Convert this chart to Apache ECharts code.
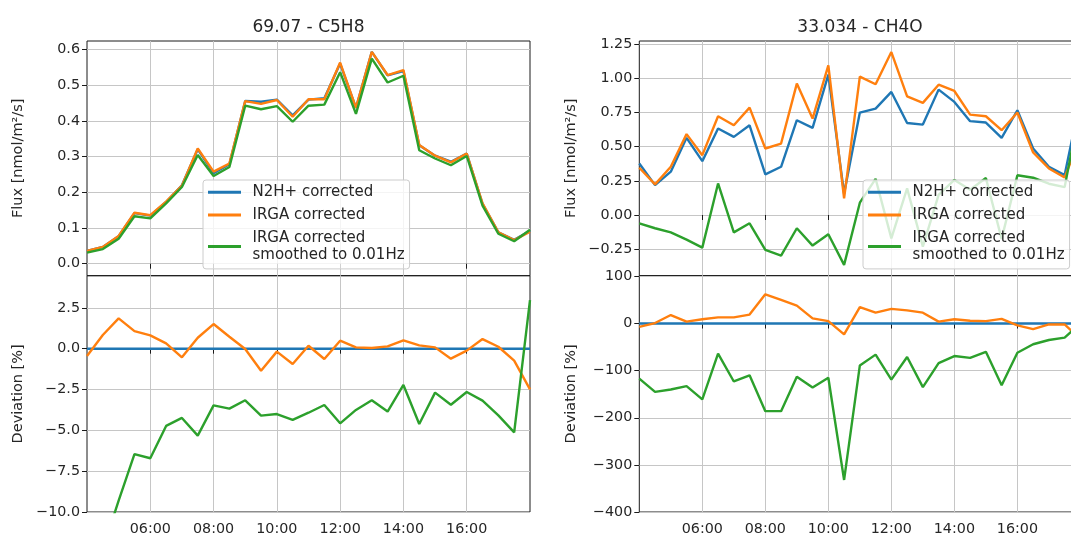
<!DOCTYPE html>
<html><head><meta charset="utf-8">
<script src="https://cdn.jsdelivr.net/npm/echarts@6/dist/echarts.min.js"></script>
<style>html,body{margin:0;padding:0;background:#fff}#c{width:1071px;height:536px}</style>
</head><body><div id="c"></div>
<script>
// ---------- data ----------
const times = ['04:00','04:30','05:00','05:30','06:00','06:30','07:00','07:30','08:00','08:30','09:00','09:30','10:00','10:30','11:00','11:30','12:00','12:30','13:00','13:30','14:00','14:30','15:00','15:30','16:00','16:30','17:00','17:30','18:00'];
const seriesNames = ['N2H+ corrected', 'IRGA corrected', 'IRGA corrected\nsmoothed to 0.01Hz'];

// 69.07 - C5H8
const c5h8FluxN2H    = [0.036,0.047,0.077,0.142,0.135,0.173,0.220,0.321,0.254,0.279,0.456,0.454,0.460,0.416,0.460,0.464,0.561,0.437,0.594,0.528,0.540,0.332,0.303,0.286,0.309,0.168,0.088,0.067,0.092];
const c5h8FluxIRGA   = [0.036,0.047,0.078,0.143,0.136,0.174,0.219,0.323,0.258,0.281,0.456,0.448,0.459,0.412,0.461,0.461,0.564,0.437,0.594,0.529,0.543,0.333,0.303,0.284,0.309,0.169,0.088,0.066,0.090];
const c5h8FluxSmooth = [0.031,0.041,0.070,0.133,0.127,0.169,0.215,0.305,0.246,0.271,0.443,0.433,0.442,0.398,0.443,0.446,0.537,0.420,0.575,0.508,0.527,0.318,0.295,0.276,0.302,0.163,0.084,0.063,0.095];
const c5h8DevN2H     = [0,0,0,0,0,0,0,0,0,0,0,0,0,0,0,0,0,0,0,0,0,0,0,0,0,0,0,0,0];
const c5h8DevIRGA    = [-0.45,0.84,1.86,1.08,0.82,0.33,-0.53,0.67,1.51,0.73,-0.02,-1.35,-0.18,-0.94,0.18,-0.63,0.49,0.08,0.04,0.14,0.51,0.20,0.08,-0.61,-0.12,0.59,0.12,-0.73,-2.49];
const c5h8DevSmooth  = [-14.0,-12.3,-9.3,-6.46,-6.71,-4.73,-4.24,-5.32,-3.47,-3.67,-3.16,-4.10,-4.00,-4.36,-3.92,-3.45,-4.57,-3.75,-3.16,-3.85,-2.22,-4.61,-2.69,-3.43,-2.65,-3.18,-4.08,-5.12,2.98];

// 33.034 - CH4O
const ch4oFluxN2H    = [0.377,0.219,0.317,0.565,0.394,0.633,0.572,0.657,0.297,0.353,0.694,0.638,1.028,0.157,0.750,0.779,0.901,0.674,0.662,0.918,0.828,0.687,0.677,0.565,0.767,0.487,0.353,0.292,0.85];
const ch4oFluxIRGA   = [0.346,0.224,0.353,0.592,0.438,0.723,0.657,0.786,0.487,0.523,0.962,0.706,1.096,0.122,1.013,0.957,1.193,0.869,0.821,0.954,0.908,0.735,0.723,0.621,0.750,0.458,0.341,0.275,0.57];
const ch4oFluxSmooth = [-0.061,-0.097,-0.127,-0.180,-0.239,0.231,-0.127,-0.061,-0.256,-0.297,-0.097,-0.224,-0.141,-0.365,0.090,0.265,-0.171,0.195,-0.232,0.147,0.257,0.185,0.271,-0.175,0.291,0.273,0.229,0.204,0.80];
const ch4oDevN2H     = [0,0,0,0,0,0,0,0,0,0,0,0,0,0,0,0,0,0,0,0,0,0,0,0,0,0,0,0,0];
const ch4oDevIRGA    = [-7,1,18,4,9,13,13,19,62,50,38,11,5,-23,35,23,31,28,23,4,9,6,5,10,-4,-12,-2,-2,-33];
const ch4oDevSmooth  = [-117,-145,-140,-133,-161,-64,-123,-110,-186,-186,-113,-136,-115,-332,-89,-66,-119,-71,-135,-84,-69,-73,-60,-131,-62,-44,-35,-30,0];

// tick values
const xTicks = [6, 8, 10, 12, 14, 16];
const c5h8FluxTicks = [0, 0.1, 0.2, 0.3, 0.4, 0.5, 0.6];
const c5h8DevTicks = [-10, -7.5, -5, -2.5, 0, 2.5];
const ch4oFluxTicks = [-0.25, 0, 0.25, 0.5, 0.75, 1, 1.25];
const ch4oDevTicks = [-400, -300, -200, -100, 0, 100];

// ---------- chart ----------
const colors = ['#1f77b4', '#ff7f0e', '#2ca02c'];
const FONT = 'DejaVu Sans';
const TXT = '#262626';
const hours = times.map(t => Number(t.slice(0, 2)) + Number(t.slice(3)) / 60);
const pairs = arr => hours.map((h, i) => [h, arr[i]]);
const fmtNum = (v, d) => v.toFixed(d).replace('-', '\u2212');
const fmtTime = h => String(Math.floor(h)).padStart(2, '0') + ':' + String(Math.round((h % 1) * 60)).padStart(2, '0');

const grids = [
  { left: 87, top: 41, width: 443, height: 234.7 },
  { left: 87, top: 275.7, width: 443, height: 236.3 },
  { left: 639.3, top: 41, width: 441.1, height: 234.7 },
  { left: 639.3, top: 275.7, width: 441.1, height: 236.3 }
].map(g => Object.assign(g, { show: true, borderColor: '#1a1a1a', borderWidth: 1, backgroundColor: 'transparent', containLabel: false, outerBoundsMode: 'none' }));

function xAxis(idx, labels) {
  return {
    type: 'value', gridIndex: idx, min: 4, max: 18, minInterval: 2, maxInterval: 2,
    axisLine: { show: false },
    axisTick: { show: true, length: 5, customValues: xTicks, lineStyle: { color: '#1a1a1a', width: 1 } },
    axisLabel: { show: labels, customValues: xTicks, margin: 10, fontSize: 14.3, fontFamily: FONT, color: TXT, formatter: v => fmtTime(v) },
    splitLine: { show: true, lineStyle: { color: '#c6c6c6', width: 1 } }
  };
}
function yAxis(idx, min, max, step, ticks, dec, name) {
  return {
    type: 'value', gridIndex: idx, min: min, max: max, minInterval: step, maxInterval: step,
    name: name, nameLocation: 'middle', nameGap: 61,
    nameTextStyle: { fontSize: 14.5, fontFamily: FONT, color: TXT },
    axisLine: { show: false },
    axisTick: { show: true, length: 5, customValues: ticks, lineStyle: { color: '#1a1a1a', width: 1 } },
    axisLabel: { customValues: ticks, margin: 7, fontSize: 14.3, fontFamily: FONT, color: TXT, formatter: v => fmtNum(v, dec) },
    splitLine: { show: true, lineStyle: { color: '#c6c6c6', width: 1 } }
  };
}
function lineSeries(idx, k, arr) {
  return {
    type: 'line', name: seriesNames[k], xAxisIndex: idx, yAxisIndex: idx, data: pairs(arr),
    symbol: 'none', showSymbol: false, clip: true,
    lineStyle: { color: colors[k], width: 2.4 }, itemStyle: { color: colors[k] }
  };
}
function legend(left) {
  return {
    data: seriesNames, orient: 'vertical', left: left, top: 180,
    icon: 'rect', itemWidth: 33, itemHeight: 3, itemGap: 5.2,
    padding: [3.5, 5, 5, 5], selectedMode: false,
    backgroundColor: 'rgba(255,255,255,0.8)', borderColor: '#cccccc', borderWidth: 1, borderRadius: 3,
    textStyle: { fontSize: 15, fontFamily: FONT, color: TXT, lineHeight: 17.5, padding: [0, 0, 0, 6.5] }
  };
}

const option = {
  animation: false,
  backgroundColor: '#ffffff',
  textStyle: { fontFamily: FONT },
  title: [
    { text: '69.07 - C5H8', left: 308.5, top: 19, textAlign: 'center', padding: 0,
      textStyle: { fontSize: 17, fontWeight: 'normal', color: TXT, fontFamily: FONT } },
    { text: '33.034 - CH4O', left: 860, top: 19, textAlign: 'center', padding: 0,
      textStyle: { fontSize: 17, fontWeight: 'normal', color: TXT, fontFamily: FONT } }
  ],
  legend: [legend(203), legend(863)],
  grid: grids,
  xAxis: [xAxis(0, false), xAxis(1, true), xAxis(2, false), xAxis(3, true)],
  yAxis: [
    yAxis(0, -0.0336, 0.6244, 0.1, c5h8FluxTicks, 1, 'Flux [nmol/m\u00b2/s]'),
    yAxis(1, -10, 4.47, 2.5, c5h8DevTicks, 1, 'Deviation [%]'),
    yAxis(2, -0.4445, 1.274, 0.25, ch4oFluxTicks, 2, 'Flux [nmol/m\u00b2/s]'),
    yAxis(3, -400, 101.5, 100, ch4oDevTicks, 0, 'Deviation [%]')
  ],
  series: [
    lineSeries(0, 0, c5h8FluxN2H), lineSeries(0, 1, c5h8FluxIRGA), lineSeries(0, 2, c5h8FluxSmooth),
    lineSeries(1, 0, c5h8DevN2H), lineSeries(1, 1, c5h8DevIRGA), lineSeries(1, 2, c5h8DevSmooth),
    lineSeries(2, 0, ch4oFluxN2H), lineSeries(2, 1, ch4oFluxIRGA), lineSeries(2, 2, ch4oFluxSmooth),
    lineSeries(3, 0, ch4oDevN2H), lineSeries(3, 1, ch4oDevIRGA), lineSeries(3, 2, ch4oDevSmooth)
  ]
};
const chart = echarts.init(document.getElementById('c'), null, { renderer: 'canvas' });
chart.setOption(option);
</script>
</body></html>
